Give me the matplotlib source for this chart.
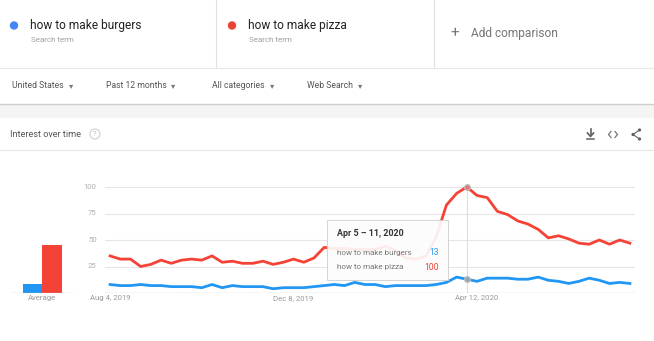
import numpy as np
import matplotlib
matplotlib.use("Agg")
import matplotlib.pyplot as plt
from matplotlib.patches import Rectangle, Circle

plt.rcParams["font.family"] = ["Roboto", "DejaVu Sans"]

# weekly interest, Aug 4 2019 .. Jul 26 2020
terms = ["how to make burgers", "how to make pizza"]
burgers = [8, 7, 7, 8, 7, 7, 6, 6, 6, 5, 8, 5, 7, 6, 6, 6, 4, 5, 5, 5, 6, 7,
           8, 7, 10, 8, 8, 6, 7, 7, 7, 7, 8, 10, 15, 13, 11, 14, 14, 14, 13, 13,
           15, 12, 11, 9, 11, 14, 12, 9, 10, 9]
pizza = [35, 32, 32, 25, 27, 31, 28, 31, 32, 31, 35, 29, 30, 28, 28, 30, 27, 29, 32, 29, 33, 43,
         42, 42, 41, 41, 41, 44, 40, 33, 32, 35, 53, 83, 94, 100, 92, 90, 77, 74, 68, 65,
         60, 52, 54, 51, 47, 46, 50, 46, 50, 47]
y_ticks = [25, 50, 75, 100]
x_tick_weeks = [0, 18, 36]
x_tick_labels = ["Aug 4, 2019", "Dec 8, 2019", "Apr 12, 2020"]
hover_week = 35
hover_label = "Apr 5 \u2013 11, 2020"
filters = ["United States", "Past 12 months", "All categories", "Web Search"]

BLUE = "#2196f3"
RED = "#f44336"
DOT_BLUE = "#4285f4"
DOT_RED = "#ea4335"
GRID = "#e6e6e6"
TXT = "#333333"
ICON = "#616161"

W, H = 654, 341
fig = plt.figure(figsize=(W / 100, H / 100), dpi=100)
fig.patch.set_facecolor("white")

# page chrome drawn in pixel coordinates
bg = fig.add_axes([0, 0, 1, 1])
bg.set_xlim(0, W)
bg.set_ylim(H, 0)
bg.axis("off")

# search-term cards
for x in (215.5, 433.5):
    bg.plot([x, x], [0, 67], color="#e0e0e0", lw=0.8)
bg.plot([0, W], [67.5, 67.5], color="#e8e8e8", lw=0.8)
for dx, col, term in ((14, DOT_BLUE, terms[0]), (232, DOT_RED, terms[1])):
    bg.add_patch(Circle((dx, 25.5), 4.2, color=col, lw=0))
    bg.text(dx + 16.5, 25.5, term, fontsize=8.6, color="#202124", va="center", ha="left")
    bg.text(dx + 17, 39.5, "Search term", fontsize=5.8, color="#a0a0a0", va="center", ha="left")
bg.text(455, 33, "+", fontsize=11, color="#757575", va="center", ha="center")
bg.text(471, 33, "Add comparison", fontsize=8.6, color="#757575", va="center", ha="left")

# filter row
for fx, arrow_x, label in zip((11.5, 106.5, 211.5, 307), (71, 173, 272.5, 360), filters):
    bg.text(fx, 86, label, fontsize=6.2, color="#555555", va="center", ha="left")
    bg.text(arrow_x, 86.5, "\u25be", fontsize=6, color="#777777", va="center", ha="center")
bg.add_patch(Rectangle((0, 104), W, 14, color="#f4f4f4", lw=0))
bg.plot([0, W], [104, 104], color="#cfcfcf", lw=1.0)

# chart card header
bg.text(10, 134.5, "Interest over time", fontsize=6.6, color="#555555", va="center", ha="left")
bg.add_patch(Circle((95, 134), 5, fill=False, ec="#c8c8c8", lw=0.7))
bg.text(95, 134.3, "?", fontsize=5.5, color="#c0c0c0", va="center", ha="center")
# download icon
bg.plot([590.5, 590.5], [129, 135], color=ICON, lw=1.2)
bg.plot([587.5, 590.5, 593.5], [133, 136.5, 133], color=ICON, lw=1.2)
bg.plot([587, 594], [139, 139], color=ICON, lw=1.1)
# embed icon
bg.plot([611, 608.5, 611], [131.5, 134.5, 137.5], color="#757575", lw=0.9)
bg.plot([615, 617.5, 615], [131.5, 134.5, 137.5], color="#757575", lw=0.9)
# share icon
sx, sy = [639.5, 633, 639.5], [130, 134.5, 139]
bg.plot(sx, sy, color=ICON, lw=0.8)
for px, py in zip(sx, sy):
    bg.add_patch(Circle((px, py), 1.6, color=ICON, lw=0))
bg.plot([0, W], [149.5, 149.5], color="#e6e6e6", lw=0.8)

# main time-series axes: y 0 at px 293, y 100 at px 187; weeks -0.5..51.5 over px 105..635
bottom, top = 293, 187
ax = fig.add_axes([105 / W, (H - bottom) / H, 530 / W, (bottom - top) / H])
ax.set_facecolor("none")
weeks = np.arange(len(pizza))
ax.set_xlim(-0.5, len(pizza) - 0.5)
ax.set_ylim(0, 100)
for t in y_ticks:
    ax.axhline(t, color=GRID, lw=0.8, zorder=0)
    ax.text(-1.3, t, str(t), fontsize=5.6, color="#b0b0b0", ha="right", va="center")
ax.axhline(0, color="#bdbdbd", lw=0.9, zorder=1)
ax.axvline(hover_week, color="#dddddd", lw=0.8, zorder=1)
ax.plot(weeks, pizza, color=RED, lw=2.0, solid_joinstyle="round", zorder=3, clip_on=False)
ax.plot(weeks, burgers, color=BLUE, lw=2.0, solid_joinstyle="round", zorder=3, clip_on=False)
ax.plot([hover_week], [pizza[hover_week]], "o", ms=4, color="#e57373", mec="#bbbbbb", zorder=4, clip_on=False)
ax.plot([hover_week], [burgers[hover_week]], "o", ms=4, color="#90a4ae", mec="#bbbbbb", zorder=4)
for w, lab in zip(x_tick_weeks, x_tick_labels):
    ax.text(w, -4.5, lab, fontsize=5.6, color="#9a9a9a", ha="center", va="center")
ax.axis("off")

# hover tooltip
tip_l, tip_r, tip_t, tip_b = 327, 448, 220, 280
tx = lambda px: (px - 105) / 530 * len(pizza) - 0.5
ty = lambda py: (bottom - py) / (bottom - top) * 100
ax.add_patch(Rectangle((tx(tip_l) + 0.08, ty(tip_b) - 0.8), tx(tip_r) - tx(tip_l), ty(tip_t) - ty(tip_b),
                       color="#000000", alpha=0.08, lw=0, zorder=5))
ax.add_patch(Rectangle((tx(tip_l), ty(tip_b)), tx(tip_r) - tx(tip_l), ty(tip_t) - ty(tip_b),
                       facecolor="white", edgecolor="#d0d0d0", lw=0.7, alpha=0.9, zorder=6))
ax.text(tx(337), ty(234), hover_label, fontsize=6.4, color=TXT, weight="bold", ha="left", va="center", zorder=7)
for row_y, term, vals, col in ((253, terms[0], burgers, BLUE), (267, terms[1], pizza, RED)):
    ax.text(tx(337), ty(row_y), term, fontsize=5.8, color="#777777", ha="left", va="center", zorder=7)
    ax.text(tx(438.5), ty(row_y), str(vals[hover_week]), fontsize=6.2, color=col, ha="right", va="center", zorder=7)

# average bars on the same vertical scale
avg = fig.add_axes([11 / W, (H - bottom) / H, 63 / W, (bottom - top) / H])
avg.set_facecolor("none")
avg.set_ylim(0, 100)
avg.set_xlim(-1.115, 2.115)
avg.bar([0, 1], [np.mean(burgers), np.mean(pizza)], width=1.0, color=[BLUE, RED], zorder=2)
avg.axhline(0, color="#bdbdbd", lw=0.9)
avg.text(0.5, -4.5, "Average", fontsize=5.6, color="#9a9a9a", ha="center", va="center")
avg.axis("off")

fig.savefig("out.png", dpi=100)
